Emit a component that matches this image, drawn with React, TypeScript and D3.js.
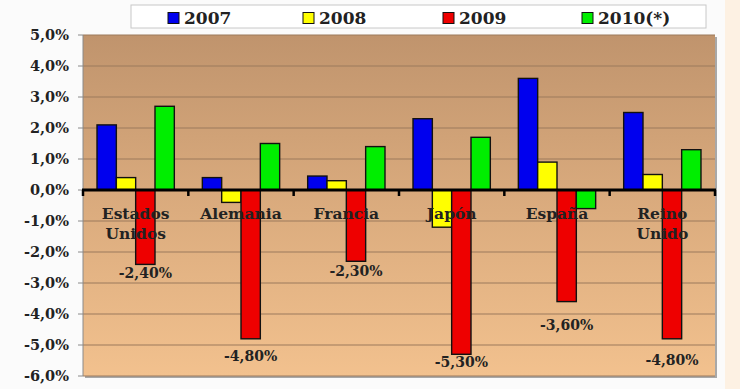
import React from "react";
import * as d3 from "d3";

const categories = ["Estados Unidos", "Alemania", "Francia", "Japón", "España", "Reino Unido"];
const seriesNames = ["2007", "2008", "2009", "2010(*)"];
const v2007 = [2.1, 0.4, 0.45, 2.3, 3.6, 2.5];
const v2008 = [0.4, -0.4, 0.3, -1.2, 0.9, 0.5];
const v2009 = [-2.4, -4.8, -2.3, -5.3, -3.6, -4.8];
const v2010 = [2.7, 1.5, 1.4, 1.7, -0.6, 1.3];
const labels2009 = ["-2,40%", "-4,80%", "-2,30%", "-5,30%", "-3,60%", "-4,80%"];
const labelAnchor2009 = [-2.68, -5.35, -2.61, -5.55, -4.35, -5.48];
const yTicks = [5, 4, 3, 2, 1, 0, -1, -2, -3, -4, -5, -6];

const colors = ["#0000ee", "#ffff00", "#ee0000", "#00ee00"];
const FONT = "'DejaVu Serif', serif";

export default function App() {
  const W = 740, H = 389;
  const left = 83, right = 715, top = 35, bottom = 376;
  const y = d3.scaleLinear().domain([-6, 5]).range([bottom, top]);
  const x0 = d3.scaleBand().domain(categories).range([left, right]).paddingInner(0).paddingOuter(0);
  const bw = x0.bandwidth();
  const groupW = bw * 0.734;
  const x1 = d3.scaleBand().domain(seriesNames).range([0, groupW]);
  const series = [v2007, v2008, v2009, v2010];
  const fmt = (d: number) => d3.format(".1f")(d).replace(".", ",").replace("−", "-") + "%";
  const legendX = [168, 303, 443, 582];

  return (
    <svg width={W} height={H} style={{ position: "absolute", left: 0, top: 0, background: "#ffffff" }}>
      <defs>
        <linearGradient id="bg" x1="0" y1="0" x2="0" y2="1">
          <stop offset="0%" stopColor="#c0946d" />
          <stop offset="45%" stopColor="#d8a97c" />
          <stop offset="100%" stopColor="#f2c18e" />
        </linearGradient>
      </defs>
      <rect x={0} y={0} width={W} height={H} fill="#fbfbfb" />
      <rect x={725} y={0} width={15} height={H} fill="#fdf1e3" />
      <rect x={left + 2} y={top + 2} width={right - left} height={bottom - top} fill="#a8a8a8" />
      <rect x={left} y={top} width={right - left} height={bottom - top} fill="url(#bg)" />
      {yTicks.map((t) => (
        <line key={"g" + t} x1={left} x2={right} y1={y(t)} y2={y(t)} stroke="#9c7b5c" strokeWidth={1.2} />
      ))}
      <line x1={left} x2={left} y1={top} y2={bottom} stroke="#8a8a8a" strokeWidth={1} />
      {yTicks.map((t) => (
        <g key={"t" + t}>
          <line x1={left - 5} x2={left} y1={y(t)} y2={y(t)} stroke="#8a8a8a" />
          <text x={69} y={y(t)} dy="0.35em" textAnchor="end" fontFamily={FONT} fontWeight="bold" fontSize={14.5} fill="#222">
            {fmt(t)}
          </text>
        </g>
      ))}
      {categories.map((c, i) => (
        <g key={c} transform={`translate(${(x0(c) as number) + (bw - groupW) / 2},0)`}>
          {series.map((s, j) => {
            const v = s[i];
            return (
              <rect
                key={j}
                x={x1(seriesNames[j]) as number}
                y={Math.min(y(v), y(0))}
                width={x1.bandwidth()}
                height={Math.abs(y(v) - y(0))}
                fill={colors[j]}
                stroke="#111"
                strokeWidth={1.4}
              />
            );
          })}
        </g>
      ))}
      <line x1={left - 1} x2={right + 1} y1={y(0)} y2={y(0)} stroke="#000" strokeWidth={3} />
      {d3.range(categories.length + 1).map((k) => (
        <line key={"ct" + k} x1={left + k * bw} x2={left + k * bw} y1={y(0)} y2={y(0) + 6} stroke="#000" strokeWidth={2.5} />
      ))}
      {categories.map((c) => {
        const cx = (x0(c) as number) + bw / 2;
        const words = c.split(" ");
        const lines = c === "Estados Unidos" || c === "Reino Unido" ? words : [c];
        return (
          <text key={"cl" + c} x={cx} y={219} textAnchor="middle" fontFamily={FONT} fontWeight="bold" fontSize={15.5} fill="#222">
            {lines.map((l, k) => (
              <tspan key={k} x={cx} dy={k === 0 ? 0 : 20}>{l}</tspan>
            ))}
          </text>
        );
      })}
      {categories.map((c, i) => {
        const cx = (x0(c) as number) + (bw - groupW) / 2 + (x1("2009") as number) + x1.bandwidth() / 2;
        return (
          <text key={"dl" + c} x={cx} y={y(labelAnchor2009[i])} dy="0.35em" textAnchor="middle" fontFamily={FONT} fontWeight="bold" fontSize={14} fill="#222">
            {labels2009[i]}
          </text>
        );
      })}
      <rect x={131} y={5} width={575} height={23} fill="#ffffff" stroke="#c8c8c8" strokeWidth={1} />
      {seriesNames.map((s, j) => (
        <g key={"lg" + s}>
          <rect x={legendX[j]} y={12.5} width={11} height={11} fill={colors[j]} stroke="#111" strokeWidth={1} />
          <text x={legendX[j] + 16} y={18} dy="0.38em" fontFamily={FONT} fontWeight="bold" fontSize={17} fill="#222">
            {s}
          </text>
        </g>
      ))}
    </svg>
  );
}
